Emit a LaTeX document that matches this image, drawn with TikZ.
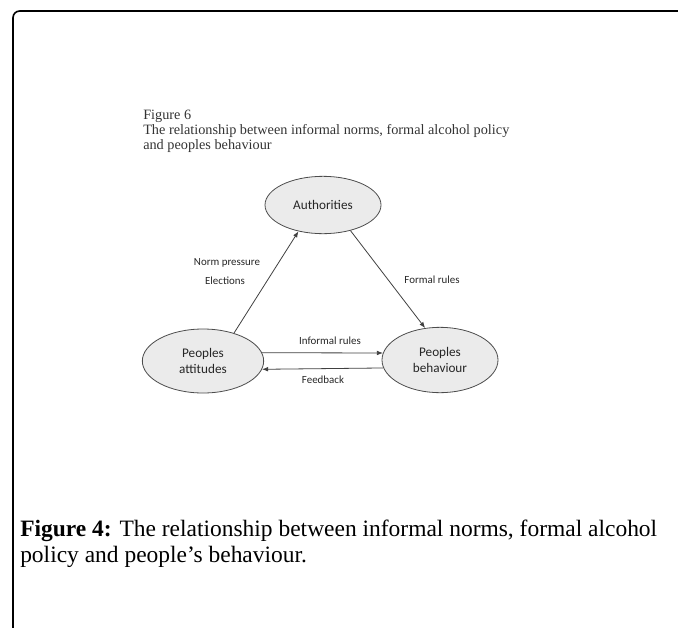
\documentclass[tikz,border=0pt]{standalone}
\usepackage{fontspec}
\setmainfont{Liberation Serif}
\newfontfamily\calib{Carlito}
\usetikzlibrary{shapes.geometric,arrows.meta}
\begin{document}
\begin{tikzpicture}[x=0.75pt,y=-0.75pt,
  ell/.style={ellipse,draw=black!70,fill=black!8,line width=0.6pt,inner sep=0pt,align=center,font=\calib\fontsize{9.9pt}{12.2pt}\selectfont,text=black!85},
  conn/.style={draw=black!75,line width=0.6pt,-{Latex[length=4.5pt,width=3.5pt]}},
  lbl/.style={font=\calib\fontsize{8.2pt}{10pt}\selectfont,text=black!85,inner sep=0pt},
  ttl/.style={font=\fontsize{10.7pt}{12pt}\selectfont,text=black!80,anchor=base west,inner sep=0pt},
  captext/.style={font=\fontsize{17.6pt}{20pt}\selectfont,anchor=base west,inner sep=0pt}]
\useasboundingbox (0,0) rectangle (678,628);
\draw[line width=1.2pt,rounded corners=5pt] (13,630) -- (13,11) -- (680,11);
% title
\node[ttl] (t1) at (143,119) {Figure 6};
\node[ttl] (t2) at (143,134) {The relationship between informal norms, formal alcohol policy};
\node[ttl] (t3) at (143,149) {and peoples behaviour};
% nodes
\node[ell,minimum width=87pt,minimum height=43pt] (auth) at (323,205) {Authorities};
\node[ell,minimum width=91pt,minimum height=48pt] (att) at (203,361) {Peoples\\attitudes};
\node[ell,minimum width=87pt,minimum height=49pt] (beh) at (440,360) {Peoples\\behaviour};
% connectors
\draw[conn] (att.42) -- (auth.227);
\draw[conn] (auth.-43) -- (beh.115);
\draw[conn] (att.8) -- (beh.173);
\draw[conn] (beh.188) -- (att.-8);
% labels
\node[lbl] (l1) at (227,263) {Norm pressure};
\node[lbl] (l2) at (225,281) {Elections};
\node[lbl] (l3) at (432,280) {Formal rules};
\node[lbl] (l4) at (330,341) {Informal rules};
\node[lbl] (l5) at (323,380) {Feedback};
% caption
\node[captext] (c1) at (20,536) {\textbf{Figure 4:} The relationship between informal norms, formal alcohol};
\node[captext] (c2) at (20,562) {policy and people’s behaviour.};
\end{tikzpicture}
\end{document}
